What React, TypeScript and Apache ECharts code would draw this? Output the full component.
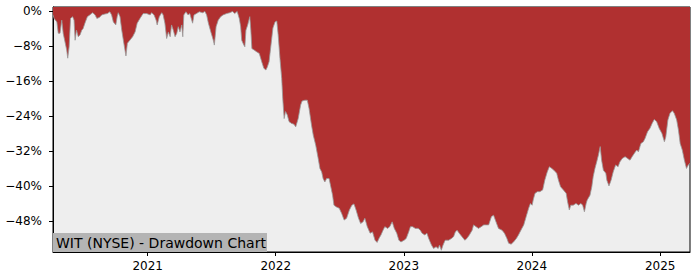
import React, { useEffect, useRef } from "react";
import * as echarts from "echarts";

// Drawdown (%), [date, drawdown]
const dd2020: [string, number][] = [
  ["2020-04-06", -0.8], ["2020-04-09", -1.6], ["2020-04-17", -2.4], ["2020-04-21", -5.0], ["2020-04-26", -5.0],
  ["2020-05-01", -2.0], ["2020-05-05", -5.0], ["2020-05-15", -8.8], ["2020-05-18", -10.7], ["2020-05-22", -8.1],
  ["2020-05-26", -1.6], ["2020-06-01", -1.2], ["2020-06-05", -2.0], ["2020-06-08", -6.6], ["2020-06-12", -4.3],
  ["2020-06-17", -5.8], ["2020-06-22", -5.4], ["2020-06-27", -4.3], ["2020-07-01", -3.9], ["2020-07-06", -2.7],
  ["2020-07-13", -1.2], ["2020-07-20", -0.8], ["2020-07-28", -0.3], ["2020-08-04", -0.8], ["2020-08-09", -1.6],
  ["2020-08-16", -1.4], ["2020-08-23", -0.8], ["2020-09-01", -0.6], ["2020-09-08", -0.5], ["2020-09-15", -0.1],
  ["2020-09-20", -0.8], ["2020-09-25", -2.4], ["2020-10-02", -3.1], ["2020-10-06", -1.2], ["2020-10-09", -0.3],
  ["2020-10-14", -1.2], ["2020-10-19", -4.3], ["2020-10-25", -7.3], ["2020-10-31", -10.2], ["2020-11-04", -7.3],
  ["2020-11-11", -6.6], ["2020-11-19", -5.8], ["2020-11-26", -4.7], ["2020-12-02", -2.7], ["2020-12-10", -1.6],
  ["2020-12-19", -0.5], ["2020-12-29", -0.5],
];
const dd2021: [string, number][] = [
  ["2021-01-08", -0.8], ["2021-01-12", -0.3], ["2021-01-19", -0.8], ["2021-01-25", -2.0], ["2021-01-28", -3.1],
  ["2021-02-03", -1.2], ["2021-02-10", -0.3], ["2021-02-14", -0.8], ["2021-02-19", -2.7], ["2021-02-24", -6.2],
  ["2021-03-01", -4.7], ["2021-03-06", -5.8], ["2021-03-10", -3.1], ["2021-03-15", -4.3], ["2021-03-20", -5.8],
  ["2021-03-25", -5.0], ["2021-03-29", -3.5], ["2021-04-03", -4.7], ["2021-04-08", -3.1], ["2021-04-11", -5.8],
  ["2021-04-14", -0.8], ["2021-04-20", -0.1], ["2021-04-26", -0.8], ["2021-05-01", -0.5], ["2021-05-09", -2.7],
  ["2021-05-13", -0.8], ["2021-05-20", -0.5], ["2021-05-28", -0.1], ["2021-06-07", -0.3], ["2021-06-13", 0],
  ["2021-06-18", -0.8], ["2021-06-23", -2.7], ["2021-06-30", -4.7], ["2021-07-07", -6.6], ["2021-07-10", -7.7],
  ["2021-07-15", -3.5], ["2021-07-21", -2.0], ["2021-07-28", -1.2], ["2021-08-04", -0.8], ["2021-08-14", -0.5],
  ["2021-08-23", -0.3], ["2021-08-31", 0], ["2021-09-06", -0.5], ["2021-09-13", 0], ["2021-09-19", -1.6],
  ["2021-09-23", -3.5], ["2021-09-26", -6.6], ["2021-10-02", -7.7], ["2021-10-05", -8.1], ["2021-10-08", -4.3],
  ["2021-10-13", -3.1], ["2021-10-19", -1.2], ["2021-10-22", -4.3], ["2021-10-25", -8.5], ["2021-10-31", -8.8],
  ["2021-11-07", -9.2], ["2021-11-15", -9.6], ["2021-11-22", -11.5], ["2021-11-28", -13.0], ["2021-12-04", -13.4],
  ["2021-12-08", -12.7], ["2021-12-13", -11.5], ["2021-12-20", -6.6], ["2021-12-24", -3.8], ["2021-12-30", -2.4],
];
const dd2022: [string, number][] = [
  ["2022-01-04", -2.2], ["2022-01-08", -5.4], ["2022-01-13", -10.7], ["2022-01-18", -15.3], ["2022-01-21", -19.9],
  ["2022-01-25", -24.5], ["2022-01-29", -22.9], ["2022-02-03", -23.7], ["2022-02-08", -25.2], ["2022-02-15", -25.6],
  ["2022-02-22", -25.8], ["2022-02-27", -26.4], ["2022-03-06", -24.5], ["2022-03-13", -21.4], ["2022-03-17", -20.5],
  ["2022-03-25", -20.3], ["2022-04-01", -20.3], ["2022-04-06", -22.2], ["2022-04-13", -26.0], ["2022-04-18", -28.3],
  ["2022-04-25", -30.6], ["2022-05-02", -33.6], ["2022-05-07", -35.9], ["2022-05-12", -36.7], ["2022-05-16", -38.2],
  ["2022-05-21", -39.0], ["2022-05-26", -38.2], ["2022-06-02", -38.2], ["2022-06-07", -40.1], ["2022-06-12", -42.0],
  ["2022-06-16", -44.3], ["2022-06-23", -44.7], ["2022-07-01", -45.0], ["2022-07-08", -46.2], ["2022-07-15", -47.7],
  ["2022-07-22", -47.3], ["2022-07-30", -45.4], ["2022-08-06", -44.3], ["2022-08-12", -44.0], ["2022-08-18", -45.4],
  ["2022-08-25", -47.3], ["2022-08-31", -48.5], ["2022-09-07", -48.1], ["2022-09-12", -47.3], ["2022-09-19", -49.2],
  ["2022-09-27", -50.7], ["2022-10-04", -50.4], ["2022-10-11", -52.3], ["2022-10-17", -52.8], ["2022-10-23", -51.8],
  ["2022-10-28", -51.1], ["2022-11-03", -50.0], ["2022-11-08", -49.2], ["2022-11-16", -49.6], ["2022-11-22", -49.2],
  ["2022-11-29", -48.1], ["2022-12-05", -49.6], ["2022-12-12", -50.7], ["2022-12-18", -52.3], ["2022-12-24", -52.7],
];
const dd2023: [string, number][] = [
  ["2023-01-02", -52.3], ["2023-01-08", -51.9], ["2023-01-15", -50.4], ["2023-01-20", -49.2], ["2023-01-26", -49.2],
  ["2023-02-03", -49.6], ["2023-02-11", -49.6], ["2023-02-17", -50.0], ["2023-02-22", -50.7], ["2023-03-02", -51.1],
  ["2023-03-08", -50.7], ["2023-03-13", -51.9], ["2023-03-21", -53.4], ["2023-03-27", -54.2], ["2023-04-03", -53.8],
  ["2023-04-09", -54.2], ["2023-04-13", -53.4], ["2023-04-18", -54.6], ["2023-04-23", -53.4], ["2023-04-29", -52.3],
  ["2023-05-09", -52.3], ["2023-05-17", -51.9], ["2023-05-23", -51.5], ["2023-05-28", -50.4], ["2023-06-02", -50.0],
  ["2023-06-08", -50.7], ["2023-06-16", -51.5], ["2023-06-24", -52.3], ["2023-06-30", -51.9], ["2023-07-07", -51.1],
  ["2023-07-15", -50.0], ["2023-07-19", -48.8], ["2023-07-26", -49.2], ["2023-08-02", -49.6], ["2023-08-10", -49.2],
  ["2023-08-17", -48.8], ["2023-08-24", -48.8], ["2023-08-31", -48.8], ["2023-09-08", -46.9], ["2023-09-14", -46.6],
  ["2023-09-19", -47.7], ["2023-09-28", -49.6], ["2023-10-08", -50.0], ["2023-10-15", -50.7], ["2023-10-22", -51.9],
  ["2023-10-27", -53.0], ["2023-11-03", -53.2], ["2023-11-10", -52.7], ["2023-11-18", -51.9], ["2023-11-24", -51.1],
  ["2023-12-01", -50.0], ["2023-12-09", -48.8], ["2023-12-16", -46.9], ["2023-12-23", -45.0], ["2023-12-28", -43.9],
];
const dd2024: [string, number][] = [
  ["2024-01-02", -44.3], ["2024-01-05", -43.1], ["2024-01-10", -41.6], ["2024-01-17", -41.2], ["2024-01-24", -41.2],
  ["2024-02-01", -40.8], ["2024-02-07", -38.6], ["2024-02-14", -36.7], ["2024-02-20", -35.5], ["2024-02-27", -35.9],
  ["2024-03-04", -36.3], ["2024-03-12", -37.0], ["2024-03-17", -38.6], ["2024-03-23", -40.1], ["2024-03-31", -40.8],
  ["2024-04-08", -41.6], ["2024-04-12", -43.5], ["2024-04-17", -45.4], ["2024-04-21", -44.3], ["2024-04-28", -44.3],
  ["2024-05-06", -43.9], ["2024-05-13", -44.3], ["2024-05-20", -43.9], ["2024-05-25", -44.3], ["2024-05-30", -45.8],
  ["2024-06-04", -43.9], ["2024-06-07", -43.1], ["2024-06-15", -42.0], ["2024-06-20", -40.1], ["2024-06-24", -37.8],
  ["2024-06-29", -35.9], ["2024-07-04", -34.4], ["2024-07-09", -32.8], ["2024-07-14", -30.9], ["2024-07-18", -34.0],
  ["2024-07-23", -36.3], ["2024-07-30", -37.0], ["2024-08-02", -38.6], ["2024-08-08", -39.9], ["2024-08-14", -38.6],
  ["2024-08-20", -36.7], ["2024-08-27", -35.1], ["2024-09-03", -35.5], ["2024-09-08", -34.4], ["2024-09-15", -33.6],
  ["2024-09-23", -33.2], ["2024-09-30", -33.6], ["2024-10-07", -34.0], ["2024-10-13", -33.2], ["2024-10-19", -32.5],
  ["2024-10-26", -31.7], ["2024-10-31", -32.1], ["2024-11-07", -30.2], ["2024-11-14", -29.8], ["2024-11-19", -29.0],
  ["2024-11-26", -27.5], ["2024-12-03", -26.7], ["2024-12-09", -25.6], ["2024-12-15", -24.7], ["2024-12-22", -25.2],
  ["2024-12-29", -26.7],
];
const dd2025: [string, number][] = [
  ["2025-01-06", -27.9], ["2025-01-13", -29.8], ["2025-01-17", -28.7], ["2025-01-23", -24.8], ["2025-01-29", -23.3],
  ["2025-02-05", -22.7], ["2025-02-10", -23.3], ["2025-02-17", -24.8], ["2025-02-22", -27.1], ["2025-02-27", -30.2],
  ["2025-03-05", -31.7], ["2025-03-11", -34.0], ["2025-03-17", -35.9], ["2025-03-22", -35.1], ["2025-03-27", -34.7],
];

const yTicks = [0, -8, -16, -24, -32, -40, -48];
const xTicks = ["2021-01-01", "2022-01-01", "2023-01-01", "2024-01-01", "2025-01-01"];
const xRange = ["2020-04-06", "2025-03-27"];
const yRange = [-55, 1];
const title = "WIT (NYSE) - Drawdown Chart";

const FONT = "DejaVu Sans";

const ts = (d: string) => {
  const [y, m, day] = d.split("-").map(Number);
  return Date.UTC(y, m - 1, day);
};

export default function App() {
  const ref = useRef<HTMLDivElement>(null);
  useEffect(() => {
    if (!ref.current) return;
    const chart = echarts.init(ref.current, null, { renderer: "svg" });
    const data = [...dd2020, ...dd2021, ...dd2022, ...dd2023, ...dd2024, ...dd2025].map(
      ([d, v]) => [ts(d), v]
    );
    const xTickVals = xTicks.map(ts);
    chart.setOption({
      animation: false,
      backgroundColor: "#ffffff",
      grid: {
        left: 53,
        right: 10,
        top: 7,
        bottom: 28,
        show: true,
        backgroundColor: "#EEEEEE",
        borderColor: "#000000",
        borderWidth: 1,
        z: 0,
      },
      xAxis: {
        type: "value",
        min: ts(xRange[0]),
        max: ts(xRange[1]),
        axisLine: { show: true, onZero: false, lineStyle: { color: "#000", width: 1 } },
        axisTick: { show: true, length: 4, lineStyle: { color: "#000" }, customValues: xTickVals },
        axisLabel: {
          customValues: xTickVals,
          formatter: (v: number) => String(new Date(v).getUTCFullYear()),
          color: "#000",
          fontSize: 12,
          fontFamily: FONT,
          margin: 8,
        },
        splitLine: { show: false },
      },
      yAxis: {
        type: "value",
        min: yRange[0],
        max: yRange[1],
        axisLine: { show: true, onZero: false, lineStyle: { color: "#000", width: 1 } },
        axisTick: { show: true, length: 4, lineStyle: { color: "#000" }, customValues: yTicks },
        axisLabel: {
          customValues: yTicks,
          formatter: (v: number) => (v < 0 ? "\u2212" : "") + Math.abs(v) + "%",
          color: "#000",
          fontSize: 12,
          fontFamily: FONT,
          margin: 11,
        },
        splitLine: { show: false },
      },
      series: [
        {
          type: "line",
          data,
          showSymbol: false,
          symbol: "none",
          lineStyle: { color: "#999999", width: 0.8 },
          areaStyle: { color: "#B03030", opacity: 1, origin: "end" },
          z: 2,
        },
      ],
      graphic: [
        {
          type: "rect",
          z: 100,
          shape: { x: 53, y: 233, width: 214, height: 19 },
          style: { fill: "#B4B4B4" },
        },
        {
          type: "text",
          z: 101,
          x: 56,
          y: 243,
          style: {
            text: title,
            fill: "#000",
            font: `14px "${FONT}"`,
            verticalAlign: "middle",
            align: "left",
          },
        },
      ],
    });
    return () => chart.dispose();
  }, []);
  return (
    <div
      ref={ref}
      style={{ position: "fixed", left: 0, top: 0, width: 700, height: 280 }}
    />
  );
}
